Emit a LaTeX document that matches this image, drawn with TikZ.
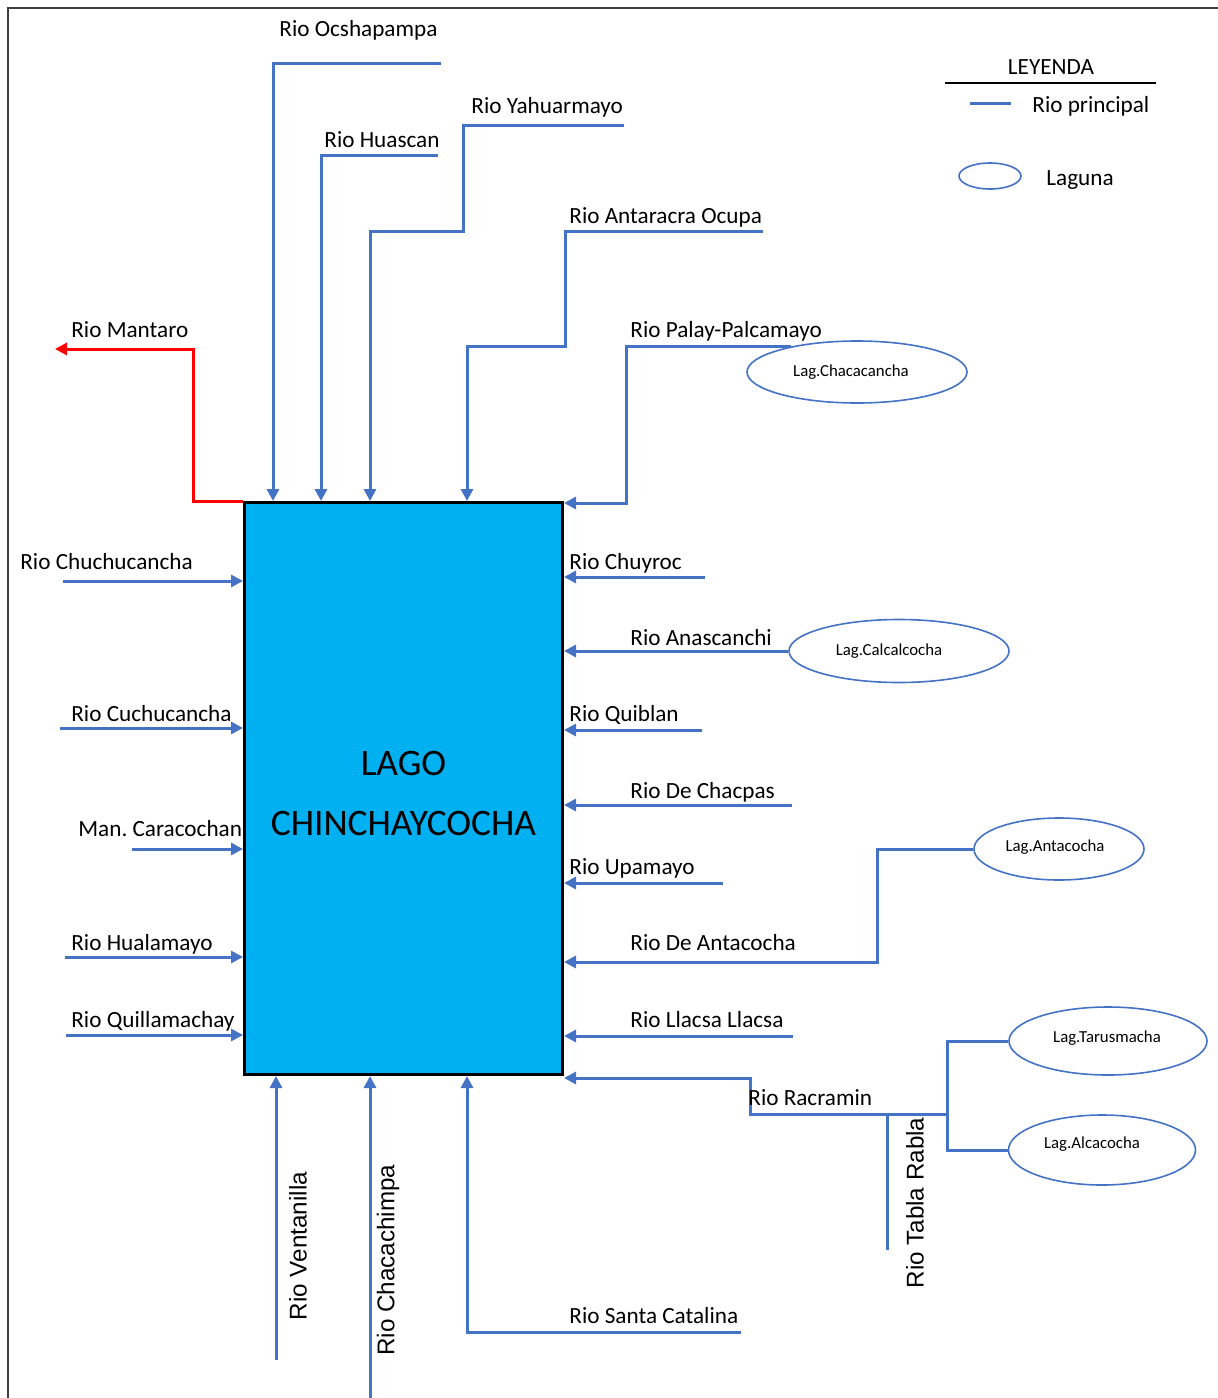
\documentclass[tikz,border=0pt]{standalone}
\usepackage{fontspec}
\setmainfont{Carlito}
\newfontfamily\arialfont{Liberation Sans}
\usetikzlibrary{arrows.meta,shapes.geometric,calc}
\definecolor{riv}{HTML}{4472C4}
\definecolor{lakeblue}{HTML}{00B0F0}
\frenchspacing
\begin{document}
\begin{tikzpicture}[x=0.5pt,y=-0.5pt,
  river/.style={draw=riv,line width=1.5pt},
  inflow/.style={river,-{Triangle[length=6pt,width=6pt]}},
  outflow/.style={draw=red,line width=1.5pt,-{Triangle[length=6pt,width=6pt]}},
  lbl/.style={anchor=base west,inner sep=0pt,font=\fontsize{11.6}{14}\selectfont},
  vlbl/.style={rotate=90,inner sep=0pt,font=\arialfont\fontsize{12.1}{14}\selectfont},
  laguna/.style={ellipse,draw=riv,line width=0.8pt,inner sep=0pt},
  lagtxt/.style={inner sep=0pt,font=\fontsize{8.4}{10}\selectfont},
]
\useasboundingbox (0,0) rectangle (1218,1398);
\draw[black!75,line width=1pt] (8,1398) -- (8,8) -- (1218,8);

% lake
\node[draw=black,line width=1.5pt,fill=lakeblue,minimum width=159pt,minimum height=286pt,
  inner sep=0pt] (lago) at (403.5,788.5) {};
\node[align=center,inner sep=0pt,font=\fontsize{18.7}{30}\selectfont] (lagoT) at (403.5,793) {LAGO\\CHINCHAYCOCHA};

% lagunas
\node[laguna,minimum width=110pt,minimum height=31pt] (chac) at (857,372) {};
\node[lagtxt] (chacT) at (851,372) {Lag.Chacacancha};
\node[laguna,minimum width=110pt,minimum height=31.5pt] (calc) at (899,651) {};
\node[lagtxt] (calcT) at (889,651) {Lag.Calcalcocha};
\node[laguna,minimum width=85pt,minimum height=31pt] (anta) at (1059,849) {};
\node[lagtxt] (antaT) at (1055,847) {Lag.Antacocha};
\node[laguna,minimum width=99pt,minimum height=34pt] (taru) at (1108,1041) {};
\node[lagtxt] (taruT) at (1107,1038) {Lag.Tarusmacha};
\node[laguna,minimum width=93.5pt,minimum height=35pt] (alca) at (1102,1150) {};
\node[lagtxt] (alcaT) at (1092,1144) {Lag.Alcacocha};

% free ends
\coordinate (ocs) at (441,63);
\coordinate (hua) at (438,155);
\coordinate (yah) at (624,125);
\coordinate (ant) at (763,231);
\coordinate (man) at (55,349);
\coordinate (chu) at (63,581);
\coordinate (cuc) at (60,728);
\coordinate (car) at (132,849);
\coordinate (hual) at (65,957);
\coordinate (qui) at (66,1035);
\coordinate (chy) at (705,577);
\coordinate (qbl) at (702,730);
\coordinate (chp) at (792,805);
\coordinate (upa) at (723,883);
\coordinate (llc) at (793,1036);
\coordinate (jr) at (947,1114);
\coordinate (tab) at (887,1250);
\coordinate (ven) at (276,1360);
\coordinate (chc) at (370,1398);
\coordinate (sca) at (741,1332);

% outflow
\draw[outflow] (lago.north west) -| (193,349) -- (man);

% top inflows
\draw[inflow] (ocs) -- (273,63) -- (273,0 |- lago.north);
\draw[inflow] (hua) -- (321,155) -- (321,0 |- lago.north);
\draw[inflow] (yah) -- (463,125) -- (463,231) -- (370,231) -- (370,0 |- lago.north);
\draw[inflow] (ant) -- (565,231) -- (565,346) -- (467,346) -- (467,0 |- lago.north);
\draw[inflow] (chac.159) -| (626,503) -- (lago.east |- 0,503);

% left inflows
\draw[inflow] (chu) -- (lago.west |- chu);
\draw[inflow] (cuc) -- (lago.west |- cuc);
\draw[inflow] (car) -- (lago.west |- car);
\draw[inflow] (hual) -- (lago.west |- hual);
\draw[inflow] (qui) -- (lago.west |- qui);

% right inflows
\draw[inflow] (chy) -- (lago.east |- chy);
\draw[inflow] (calc.west) -- (lago.east |- calc.west);
\draw[inflow] (qbl) -- (lago.east |- qbl);
\draw[inflow] (chp) -- (lago.east |- chp);
\draw[inflow] (upa) -- (lago.east |- upa);
\draw[inflow] (anta.west) -| (877,962) -- (lago.east |- 0,962);
\draw[inflow] (llc) -- (lago.east |- llc);
\draw[inflow] (jr) -- (750,1114) -- (750,1078) -- (lago.east |- 0,1078);
\draw[river] (taru.west) -| (jr);
\draw[river] (alca.west) -| (jr);
\draw[river] (tab) -- (tab |- jr);

% bottom inflows
\draw[inflow] (ven) -- (ven |- lago.south);
\draw[inflow] (chc) -- (chc |- lago.south);
\draw[inflow] (sca) -- (467,1332) -- (467,0 |- lago.south);

% labels
\node[lbl] (lOcs) at (279,36) {Rio Ocshapampa};
\node[lbl] (lHua) at (324,147) {Rio Huascan};
\node[lbl] (lYah) at (471,113) {Rio Yahuarmayo};
\node[lbl] (lAnt) at (569,223) {Rio Antaracra Ocupa};
\node[lbl] (lPal) at (630,337) {Rio Palay-Palcamayo};
\node[lbl] (lMan) at (71,337) {Rio Mantaro};
\node[lbl] (lChu) at (20,569) {Rio Chuchucancha};
\node[lbl] (lCuc) at (71,721) {Rio Cuchucancha};
\node[lbl] (lCar) at (78,836) {Man. Caracochan};
\node[lbl] (lHual) at (71,950) {Rio Hualamayo};
\node[lbl] (lQui) at (71,1027) {Rio Quillamachay};
\node[lbl] (lChy) at (569,569) {Rio Chuyroc};
\node[lbl] (lAna) at (630,645) {Rio Anascanchi};
\node[lbl] (lQbl) at (569,721) {Rio Quiblan};
\node[lbl] (lChp) at (630,798) {Rio De Chacpas};
\node[lbl] (lUpa) at (569,874) {Rio Upamayo};
\node[lbl] (lDAn) at (630,950) {Rio De Antacocha};
\node[lbl] (lLlc) at (630,1027) {Rio Llacsa Llacsa};
\node[lbl] (lRac) at (748,1105) {Rio Racramin};
\node[lbl] (lSca) at (569,1323) {Rio Santa Catalina};
\node[vlbl] (lVen) at (298,1246) {Rio Ventanilla};
\node[vlbl] (lChc) at (388,1260) {Rio Chacachimpa};
\node[vlbl] (lTab) at (915,1203) {Rio Tabla Rabla};

% legend
\node[lbl,anchor=base] (legT) at (1051,74) {LEYENDA};
\draw[black,line width=1pt] (945,83) coordinate (lg1) -- (1156,83) coordinate (lg2);
\draw[river] (970,103) coordinate (lr1) -- (1011,103) coordinate (lr2);
\node[lbl] (legR) at (1032,112) {Rio principal};
\node[laguna,minimum width=31pt,minimum height=13pt] (legE) at (990,176) {};
\node[lbl] (legL) at (1046,185) {Laguna};
\end{tikzpicture}
\end{document}
